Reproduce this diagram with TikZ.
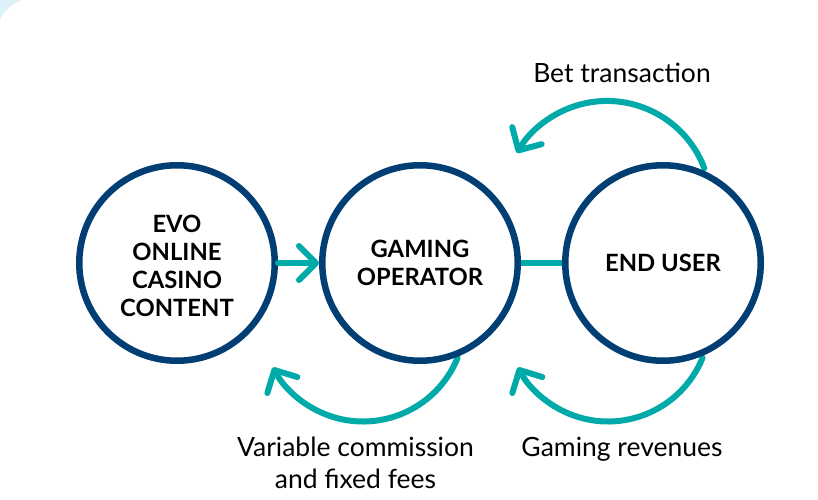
\documentclass[tikz,border=0pt]{standalone}
\usepackage{fontspec}
\setmainfont{Lato}
\usetikzlibrary{arrows.meta}
\definecolor{navy}{RGB}{0,62,116}
\definecolor{tealc}{RGB}{0,170,168}
\definecolor{cornerblue}{RGB}{221,241,249}
\begin{document}
\begin{tikzpicture}[x=1pt,y=1pt,
  hub/.style={circle, draw=navy, line width=6.5pt, fill=white, minimum size=195.5pt, inner sep=0pt, align=center, font=\bfseries\fontsize{23.8}{28.3}\selectfont, text=black},
  flow/.style={draw=tealc, line width=6pt, line cap=round, -{Straight Barb[length=17pt,width=34pt,round]}},
  link/.style={draw=tealc, line width=6pt},
  lbl/.style={font=\fontsize{26.5}{31.5}\selectfont, text=black, align=center, inner sep=0pt}]
\useasboundingbox (0,0) rectangle (818,499);
\fill[white] (0,0) rectangle (818,499);
\fill[cornerblue] (0,499) -- (22,499) .. controls (10,494) and (3,487) .. (0,479) -- cycle;
% arcs (drawn under the circles)
\coordinate (betstart) at (704.3,330.8);
\coordinate (commstart) at (457.6,141.3);
\coordinate (revstart) at (702.6,141.3);
\draw[flow] (betstart) arc[start angle=20.7, end angle=150, radius=104];
\draw[flow] (commstart) arc[start angle=-22, end angle=-152, radius=102];
\draw[flow] (revstart) arc[start angle=-22, end angle=-152, radius=102];
% circles
\node[hub, text height=108pt] (evo) at (177,236) {EVO\\ONLINE\\CASINO\\CONTENT};
\node[hub] (op) at (420,236) {GAMING\\OPERATOR};
\node[hub] (user) at (663,236) {END USER};
\draw[flow] (evo) -- (op);
\draw[link] (op) -- (user);
% labels
\node[lbl, anchor=base] (bet) at (622,416.3) {Bet transaction};
\node[lbl, anchor=base] (rev) at (622,42.3) {Gaming revenues};
\node[lbl, anchor=base] (comm) at (355.5,11) {Variable commission\\and fixed fees};
\end{tikzpicture}
\end{document}
